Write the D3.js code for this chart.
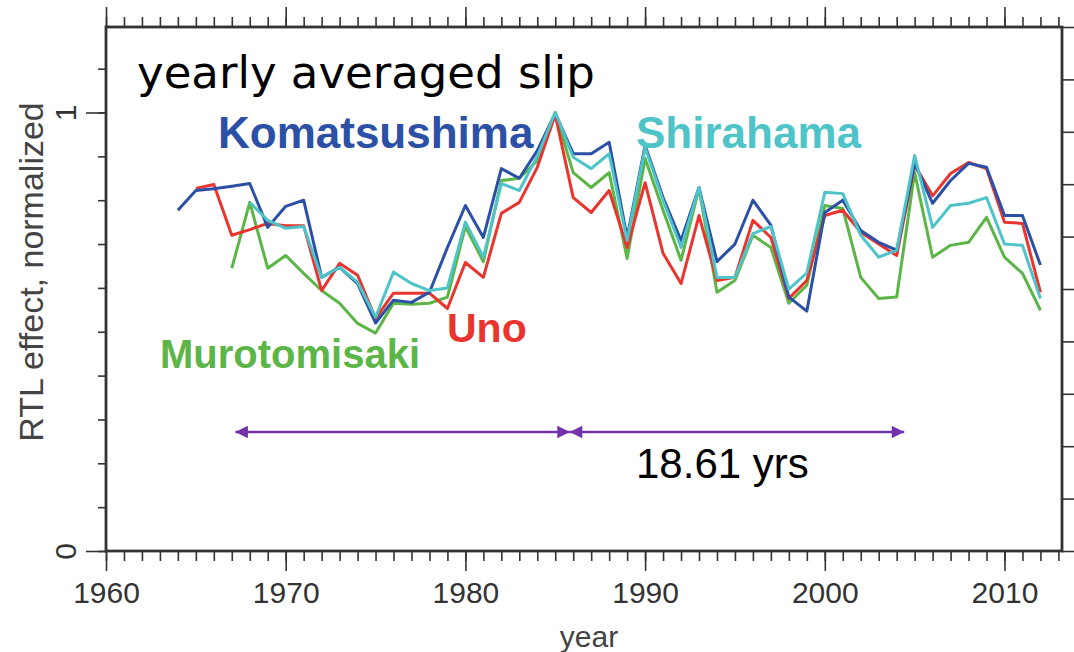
<!DOCTYPE html>
<html><head><meta charset="utf-8">
<script src="https://cdn.jsdelivr.net/npm/d3@7"></script>
<style>
html,body{margin:0;padding:0;background:#fff;}
svg{display:block;}
</style></head>
<body>
<svg id="chart" width="1074" height="652"></svg>
<script>
// ---------- data ----------
const komatsushimaYears = d3.range(1964, 2013);
const komatsushima = [0.777,0.822,0.826,0.832,0.838,0.738,0.786,0.800,0.624,0.647,
  0.610,0.520,0.572,0.567,0.590,0.692,0.788,0.715,0.872,0.850,
  0.913,0.998,0.906,0.906,0.932,0.715,0.925,0.806,0.708,0.829,
  0.660,0.700,0.800,0.743,0.579,0.547,0.772,0.800,0.731,0.704,
  0.686,0.884,0.793,0.845,0.884,0.875,0.765,0.765,0.652];

const shirahamaYears = d3.range(1968, 2013);
const shirahama = [0.795,0.754,0.736,0.740,0.624,0.647,0.613,0.533,0.636,0.610,
  0.594,0.600,0.750,0.670,0.838,0.822,0.900,1.000,0.898,0.872,
  0.906,0.708,0.920,0.800,0.692,0.829,0.624,0.624,0.724,0.740,
  0.597,0.634,0.818,0.815,0.720,0.670,0.686,0.902,0.738,0.788,
  0.793,0.806,0.700,0.697,0.576];

const unoYears = d3.range(1965, 2013);
const uno = [0.827,0.836,0.720,0.733,0.747,0.742,0.742,0.594,0.656,0.629,
  0.530,0.588,0.588,0.588,0.553,0.658,0.624,0.770,0.795,0.875,
  0.995,0.806,0.772,0.822,0.692,0.840,0.679,0.610,0.765,0.617,
  0.624,0.754,0.715,0.576,0.617,0.765,0.777,0.727,0.700,0.674,
  0.880,0.810,0.861,0.886,0.872,0.750,0.747,0.590];

const murotomisakiYears = d3.range(1967, 2013);
const murotomisaki = [0.645,0.795,0.645,0.674,0.633,0.594,0.565,0.519,0.497,0.565,
  0.563,0.565,0.579,0.740,0.660,0.845,0.850,0.890,1.000,0.863,
  0.829,0.863,0.667,0.895,0.777,0.663,0.827,0.590,0.617,0.720,
  0.692,0.565,0.606,0.788,0.781,0.624,0.576,0.579,0.863,0.670,
  0.697,0.704,0.761,0.670,0.633,0.549];

const xTickLabels = [1960, 1970, 1980, 1990, 2000, 2010];
const yTickLabels = [0, 1];
const arrowStart = 1967.2;
const nodalPeriod = 18.61;
const periodLabel = "18.61 yrs";
const titleText = "yearly averaged slip";
const xAxisTitle = "year";
const yAxisTitle = "RTL effect, normalized";

// ---------- layout ----------
const svg = d3.select("#chart");
const L = 106, R = 1062, T = 27, B = 551;
const x = d3.scaleLinear().domain([1960, 2013.2]).range([L, R]);
const y = d3.scaleLinear().domain([0, 1.195]).range([B, T]);
const yRight = d3.scaleLinear().domain([0, 10]).range([B, T]);

const axisColor = "#333";
const font = "'Liberation Sans', Arial, sans-serif";

// frame
svg.append("rect").attr("x", L).attr("y", T).attr("width", R - L).attr("height", B - T)
  .attr("fill", "#fff").attr("stroke", axisColor).attr("stroke-width", 2.8);

const allYears = d3.range(1960, 2014);
function styleAxis(g) {
  g.select(".domain").remove();
  g.selectAll(".tick line").attr("stroke", axisColor).attr("stroke-width", 1.6);
}
// bottom minor + major
svg.append("g").attr("transform", `translate(0,${B})`)
  .call(d3.axisBottom(x).tickValues(allYears).tickSize(10).tickFormat(""))
  .call(styleAxis);
svg.append("g").attr("transform", `translate(0,${B})`)
  .call(d3.axisBottom(x).tickValues(xTickLabels).tickSize(20).tickPadding(11).tickFormat(d3.format("d")))
  .call(styleAxis)
  .call(g => g.selectAll("text").attr("font-family", font).attr("font-size", 30).attr("fill", "#333"));
// top minor + major
svg.append("g").attr("transform", `translate(0,${T})`)
  .call(d3.axisTop(x).tickValues(allYears).tickSize(10).tickFormat(""))
  .call(styleAxis);
svg.append("g").attr("transform", `translate(0,${T})`)
  .call(d3.axisTop(x).tickValues(xTickLabels).tickSize(20).tickFormat(""))
  .call(styleAxis);
// left minor + major
svg.append("g").attr("transform", `translate(${L},0)`)
  .call(d3.axisLeft(y).tickValues(d3.range(0, 12).map(d => d / 10)).tickSize(8).tickFormat(""))
  .call(styleAxis);
const yl = svg.append("g").attr("transform", `translate(${L},0)`)
  .call(d3.axisLeft(y).tickValues(yTickLabels).tickSize(20).tickFormat(d3.format("d")))
  .call(styleAxis);
yl.selectAll("text").attr("font-family", font).attr("font-size", 30).attr("fill", "#333")
  .attr("x", null).attr("dy", null).attr("text-anchor", "middle")
  .attr("transform", "translate(-41,0) rotate(-90)").attr("dy", "0.35em");
// right ticks
svg.append("g").attr("transform", `translate(${R},0)`)
  .call(d3.axisRight(yRight).tickValues(d3.range(0, 11)).tickSize(12).tickFormat(""))
  .call(styleAxis);

// axis titles
svg.append("text").attr("x", 589).attr("y", 647).attr("text-anchor", "middle")
  .attr("font-family", font).attr("font-size", 30).attr("fill", "#444").text(xAxisTitle);
svg.append("text").attr("transform", "translate(43,272) rotate(-90)").attr("text-anchor", "middle")
  .attr("font-family", font).attr("font-size", 34).attr("fill", "#444").text(yAxisTitle);

// ---------- series ----------
const series = [
  {name: "Murotomisaki", years: murotomisakiYears, vals: murotomisaki, color: "#5cb547", lx: 160, ly: 368, fs: 40},
  {name: "Uno", years: unoYears, vals: uno, color: "#e9352e", lx: 447, ly: 342, fs: 41},
  {name: "Komatsushima", years: komatsushimaYears, vals: komatsushima, color: "#2b50a6", lx: 218, ly: 148, fs: 44},
  {name: "Shirahama", years: shirahamaYears, vals: shirahama, color: "#4fc4c8", lx: 636, ly: 148, fs: 44}
];
const line = d3.line().x(d => x(d[0])).y(d => y(d[1]));
series.forEach(s => {
  svg.append("path").datum(s.years.map((yr, i) => [yr, s.vals[i]]))
    .attr("d", line).attr("fill", "none").attr("stroke", s.color)
    .attr("stroke-width", 3).attr("stroke-linejoin", "round");
});
series.forEach(s => {
  svg.append("text").attr("x", s.lx).attr("y", s.ly)
    .attr("font-family", font).attr("font-weight", "bold").attr("font-size", s.fs)
    .attr("fill", s.color).text(s.name);
});

// title
svg.append("text").attr("x", 137).attr("y", 88)
  .attr("font-family", "'DejaVu Sans', sans-serif").attr("font-size", 45).attr("fill", "#000").text(titleText);

// ---------- arrows ----------
const purple = "#7232a8";
const defs = svg.append("defs");
defs.append("marker").attr("id", "ah").attr("viewBox", "0 0 10 10").attr("refX", 10).attr("refY", 5)
  .attr("markerWidth", 6).attr("markerHeight", 5).attr("markerUnits", "strokeWidth").attr("orient", "auto-start-reverse")
  .append("path").attr("d", "M0,0 L10,5 L0,10 z").attr("fill", purple);
const arrowY = 432;
const arrowPts = [arrowStart, arrowStart + nodalPeriod, arrowStart + 2 * nodalPeriod];
[[arrowPts[0], arrowPts[1]], [arrowPts[1], arrowPts[2]]].forEach(([a, b]) => {
  svg.append("line").attr("x1", x(a)).attr("x2", x(b)).attr("y1", arrowY).attr("y2", arrowY)
    .attr("stroke", purple).attr("stroke-width", 2.5)
    .attr("marker-start", "url(#ah)").attr("marker-end", "url(#ah)");
});
svg.append("text").attr("x", 636).attr("y", 478)
  .attr("font-family", font).attr("font-size", 42).attr("fill", "#000").text(periodLabel);
</script>
</body></html>
